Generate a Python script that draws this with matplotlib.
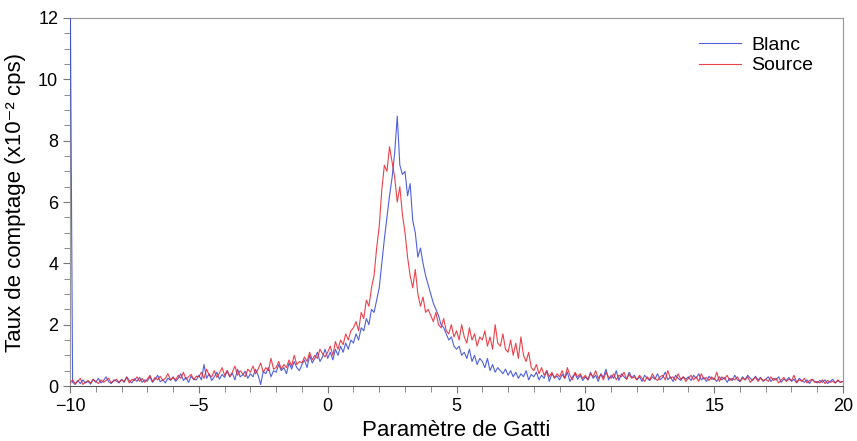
import numpy as np
import matplotlib
matplotlib.use('Agg')
import matplotlib.pyplot as plt
from matplotlib.ticker import MultipleLocator

# Paramètre de Gatti, pas de 0.1 de -10 à 20
x_start, x_step = -10.0, 0.1

blanc = [
    14, 0.12, 0.05, 0.18, 0.08, 0.2, 0.1, 0.15, 0.06, 0.22,
    0.12, 0.25, 0.1, 0.18, 0.3, 0.14, 0.08, 0.2, 0.16, 0.1,
    0.22, 0.12, 0.3, 0.18, 0.1, 0.24, 0.15, 0.28, 0.12, 0.2,
    0.16, 0.3, 0.12, 0.22, 0.35, 0.14, 0.2, 0.1, 0.26, 0.18,
    0.3, 0.15, 0.25, 0.4, 0.18, 0.28, 0.12, 0.32, 0.22, 0.2,
    0.35, 0.2, 0.7, 0.25, 0.4, 0.18, 0.3, 0.45, 0.22, 0.38,
    0.28, 0.5, 0.3, 0.42, 0.2, 0.55, 0.3, 0.36, 0.48, 0.25,
    0.4, 0.3, 0.55, 0.35, 0.05, 0.48, 0.4, 0.6, 0.3, 0.5,
    0.45, 0.7, 0.5, 0.6, 0.4, 0.75, 0.55, 0.8, 0.6, 0.5,
    0.7, 0.85, 0.6, 1.0, 0.75, 0.9, 1.1, 0.8, 0.95, 1.2,
    0.9, 1.1, 0.85, 1.2, 1.0, 1.3, 1.1, 1.4, 1.2, 1.5,
    1.4, 1.7, 1.5, 1.9, 1.8, 2.2, 2.0, 2.5, 2.4, 2.8,
    3.2, 4.0, 4.8, 5.5, 6.2, 6.8, 7.6, 8.8, 7.2, 6.9,
    7.0, 6.2, 6.6, 5.4, 5.0, 4.2, 4.5, 4.0, 3.6, 3.3,
    3.0, 2.7, 2.5, 2.3, 2.0, 1.9, 1.7, 1.5, 1.6, 1.3,
    1.2, 1.3, 1.0, 1.1, 0.9, 1.2, 0.8, 1.0, 0.7, 0.9,
    0.8, 0.6, 0.9, 0.5, 0.7, 0.45, 0.6, 0.5, 0.4, 0.55,
    0.35, 0.5, 0.3, 0.45, 0.25, 0.4, 0.3, 0.5, 0.2, 0.38,
    0.3, 0.45, 0.2, 0.35, 0.25, 0.5, 0.15, 0.4, 0.28, 0.32,
    0.2, 0.38, 0.25, 0.45, 0.15, 0.3, 0.4, 0.22, 0.35, 0.18,
    0.3, 0.2, 0.45, 0.25, 0.35, 0.15, 0.4, 0.28, 0.55, 0.2,
    0.35, 0.25, 0.5, 0.18, 0.4, 0.3, 0.22, 0.45, 0.28, 0.35,
    0.2, 0.3, 0.15, 0.35, 0.25, 0.18, 0.3, 0.22, 0.4, 0.2,
    0.28, 0.45, 0.2, 0.3, 0.15, 0.35, 0.25, 0.18, 0.3, 0.22,
    0.3, 0.18, 0.35, 0.25, 0.4, 0.2, 0.28, 0.15, 0.32, 0.22,
    0.25, 0.15, 0.3, 0.2, 0.28, 0.12, 0.25, 0.18, 0.35, 0.2,
    0.15, 0.3, 0.2, 0.35, 0.25, 0.18, 0.32, 0.2, 0.28, 0.15,
    0.22, 0.3, 0.15, 0.25, 0.2, 0.3, 0.12, 0.22, 0.18, 0.28,
    0.15, 0.22, 0.1, 0.25, 0.18, 0.12, 0.2, 0.08, 0.22, 0.15,
    0.1, 0.18, 0.12, 0.2, 0.08, 0.15, 0.22, 0.1, 0.18, 0.12, 0.15,
]

source = [
    0.1, 0.2, 0.08, 0.15, 0.25, 0.05, 0.12, 0.18, 0.1, 0.22,
    0.15, 0.08, 0.2, 0.12, 0.18, 0.25, 0.1, 0.16, 0.22, 0.12,
    0.2, 0.15, 0.28, 0.1, 0.22, 0.18, 0.3, 0.15, 0.25, 0.12,
    0.22, 0.35, 0.15, 0.28, 0.2, 0.32, 0.18, 0.25, 0.4, 0.2,
    0.28, 0.2, 0.35, 0.25, 0.45, 0.22, 0.3, 0.38, 0.2, 0.32,
    0.3, 0.45, 0.25, 0.55, 0.35, 0.3, 0.5, 0.28, 0.42, 0.6,
    0.35, 0.5, 0.3, 0.45, 0.65, 0.35, 0.5, 0.4, 0.3, 0.55,
    0.45, 0.65, 0.4, 0.55, 0.75, 0.45, 0.6, 0.5, 0.9, 0.55,
    0.6, 0.8, 0.55, 0.7, 0.6, 0.85, 0.65, 1.0, 0.7, 0.8,
    0.75, 0.95, 0.8, 1.1, 0.85, 1.0, 0.9, 1.2, 1.05, 0.95,
    1.1, 1.3, 1.0, 1.45, 1.2, 1.5, 1.35, 1.7, 1.5, 1.8,
    1.9, 2.1, 1.8, 2.4, 2.2, 2.8, 2.6, 3.2, 3.6, 4.5,
    5.2, 6.4, 7.2, 7.0, 7.8, 7.3, 6.8, 6.0, 6.5, 5.6,
    5.0, 4.2, 3.6, 3.2, 3.8, 3.0, 2.6, 2.9, 2.4, 2.5,
    2.3, 2.1, 2.4, 2.0, 1.9, 2.2, 1.8, 1.7, 2.0, 1.6,
    1.8, 1.5, 2.0, 1.6, 1.4, 1.9, 1.5, 1.7, 1.3, 1.6,
    1.5, 1.8, 1.3, 1.6, 1.2, 2.0, 1.4, 1.3, 1.7, 1.2,
    1.1, 1.5, 1.0, 1.4, 0.9, 1.6, 1.0, 0.8, 1.1, 0.6,
    0.5, 0.7, 0.4, 0.6, 0.35, 0.5, 0.3, 0.45, 0.25, 0.4,
    0.3, 0.5, 0.25, 0.6, 0.35, 0.2, 0.45, 0.3, 0.4, 0.25,
    0.35, 0.2, 0.4, 0.3, 0.5, 0.25, 0.38, 0.2, 0.45, 0.3,
    0.25, 0.4, 0.2, 0.35, 0.3, 0.45, 0.22, 0.38, 0.25, 0.3,
    0.2, 0.35, 0.25, 0.15, 0.3, 0.2, 0.4, 0.25, 0.18, 0.3,
    0.35, 0.2, 0.5, 0.25, 0.3, 0.18, 0.4, 0.22, 0.3, 0.15,
    0.25, 0.35, 0.2, 0.3, 0.15, 0.4, 0.22, 0.28, 0.18, 0.3,
    0.2, 0.45, 0.15, 0.3, 0.22, 0.35, 0.18, 0.25, 0.2, 0.3,
    0.15, 0.25, 0.2, 0.3, 0.12, 0.22, 0.28, 0.15, 0.25, 0.18,
    0.22, 0.15, 0.3, 0.18, 0.25, 0.1, 0.2, 0.28, 0.15, 0.22,
    0.18, 0.35, 0.12, 0.2, 0.15, 0.25, 0.1, 0.18, 0.22, 0.12,
    0.15, 0.1, 0.2, 0.08, 0.18, 0.12, 0.15, 0.1, 0.2, 0.12, 0.15,
]

gatti = x_start + x_step * np.arange(len(blanc))

plt.rcParams['font.family'] = ['Liberation Sans', 'DejaVu Sans']

fig = plt.figure(figsize=(8.57, 4.41), dpi=100)
ax = fig.add_axes([0.0817, 0.1247, 0.902, 0.8345])

# lignes au-dessus des axes pour que le pic à -10 reste visible
ax.plot(gatti, blanc, color='#3045d8', lw=0.8, alpha=0.85, label='Blanc', zorder=3)
ax.plot(gatti, source, color='#e8202a', lw=0.8, alpha=0.85, label='Source', zorder=3)

ax.set_xlim(-10, 20)
ax.set_ylim(0, 12)
ax.xaxis.set_major_locator(MultipleLocator(5))
ax.xaxis.set_minor_locator(MultipleLocator(1))
ax.yaxis.set_major_locator(MultipleLocator(2))
ax.yaxis.set_minor_locator(MultipleLocator(0.5))

for side in ['left', 'right', 'top']:
    ax.spines[side].set_color('#999999')
ax.spines['bottom'].set_color('#555555')
ax.tick_params(which='both', direction='out', colors='#777777', labelcolor='black', labelsize=13)
ax.tick_params(which='major', length=5)
ax.tick_params(which='minor', length=4)

ax.set_xlabel('Paramètre de Gatti', fontsize=16, labelpad=4)
ax.set_ylabel('Taux de comptage (x10⁻² cps)', fontsize=16, labelpad=9)

ax.legend(loc='upper right', frameon=False, fontsize=14, handlelength=2.2,
          handletextpad=0.5, labelspacing=0.15, bbox_to_anchor=(0.984, 0.998))

fig.savefig('out.png', dpi=100)
